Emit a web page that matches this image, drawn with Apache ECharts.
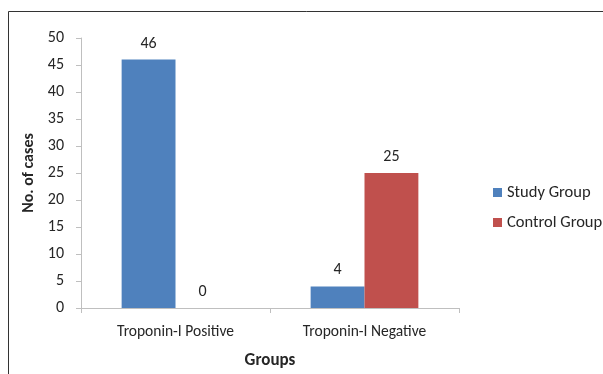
<!DOCTYPE html>
<html>
<head>
<meta charset="utf-8">
<script src="https://cdn.jsdelivr.net/npm/echarts@6/dist/echarts.min.js"></script>
<style>
  html, body { margin: 0; padding: 0; background: #fff; }
  #chart { width: 603px; height: 374px; }
</style>
</head>
<body>
<div id="chart"></div>
<script>
// Troponin-I results by group
const categories = ['Troponin-I Positive', 'Troponin-I Negative'];
const studyGroup = [46, 4];
const controlGroup = [0, 25];
const seriesNames = ['Study Group', 'Control Group'];
const yTicks = { min: 0, max: 50, step: 5 };

const FONT = 'Carlito, Lato, "Liberation Sans", sans-serif';
const TEXT = '#262626';
const chart = echarts.init(document.getElementById('chart'), null, { renderer: 'canvas' });

const labelStyle = {
  show: true,
  position: 'top',
  distance: 8,
  color: TEXT,
  fontSize: 16,
  fontFamily: FONT
};

chart.setOption({
  animation: false,
  backgroundColor: '#fff',
  graphic: [{
    type: 'rect',
    shape: { x: 8.5, y: 11.5, width: 700, height: 500 },
    style: { fill: 'none', stroke: '#333', lineWidth: 1 },
    silent: true
  }],
  grid: { left: 81, right: 144, top: 38, bottom: 63 },
  legend: {
    orient: 'vertical',
    left: 488,
    top: 179,
    itemWidth: 9,
    itemHeight: 9,
    itemGap: 13,
    icon: 'rect',
    textStyle: { fontSize: 16.5, fontFamily: FONT, color: TEXT },
    data: seriesNames
  },
  xAxis: {
    type: 'category',
    data: categories,
    name: 'Groups',
    nameLocation: 'middle',
    nameGap: 44,
    nameTextStyle: { fontSize: 17, fontWeight: 'bold', fontFamily: FONT, color: TEXT },
    axisLine: { lineStyle: { color: '#bfbfbf' } },
    axisTick: { show: true, length: 5, lineStyle: { color: '#bfbfbf' } },
    axisLabel: { fontSize: 15.5, fontFamily: FONT, color: TEXT, margin: 16 }
  },
  yAxis: {
    type: 'value',
    min: yTicks.min,
    max: yTicks.max,
    interval: yTicks.step,
    name: 'No. of cases',
    nameLocation: 'middle',
    nameGap: 35,
    nameRotate: 90,
    nameTextStyle: { fontSize: 16, fontWeight: 'bold', fontFamily: FONT, color: TEXT },
    axisLine: { show: true, lineStyle: { color: '#bfbfbf' } },
    axisTick: { show: true, length: 5, lineStyle: { color: '#bfbfbf' } },
    axisLabel: { fontSize: 16, fontFamily: FONT, color: TEXT, margin: 17 },
    splitLine: { show: false }
  },
  series: [
    {
      name: seriesNames[0],
      type: 'bar',
      data: studyGroup,
      barGap: '0%',
      barCategoryGap: '43%',
      itemStyle: { color: '#4f81bd' },
      label: labelStyle
    },
    {
      name: seriesNames[1],
      type: 'bar',
      data: controlGroup,
      itemStyle: { color: '#c0504d' },
      label: labelStyle
    }
  ]
});
</script>
</body>
</html>
